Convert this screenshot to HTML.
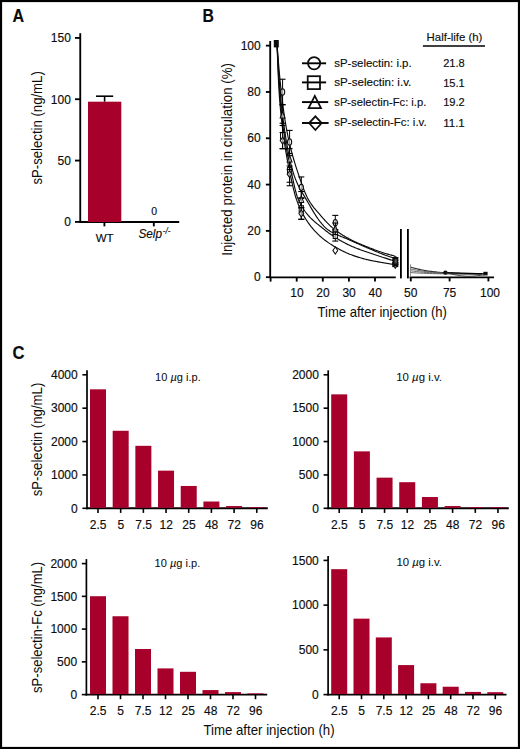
<!DOCTYPE html>
<html><head><meta charset="utf-8"><style>
html,body{margin:0;padding:0;background:#fff;overflow:hidden;}
svg{display:block;}
text{font-family:"Liberation Sans",sans-serif;fill:#0c0c0c;stroke:#0c0c0c;stroke-width:0.15px;}
</style></head><body>
<svg width="520" height="749" viewBox="0 0 520 749">
<rect x="1" y="1" width="518" height="747" fill="#fff" stroke="#000" stroke-width="2.2"/>
<text x="12.4" y="22.4" font-size="17.5" font-weight="bold" textLength="11.6" lengthAdjust="spacingAndGlyphs">A</text>
<text x="202.6" y="22.4" font-size="17.5" font-weight="bold" textLength="11.4" lengthAdjust="spacingAndGlyphs">B</text>
<text x="12.4" y="359.3" font-size="17.5" font-weight="bold" textLength="12.0" lengthAdjust="spacingAndGlyphs">C</text>
<line x1="80.25" y1="33.20" x2="80.25" y2="222.80" stroke="#000" stroke-width="1.85" />
<line x1="79.70" y1="222.00" x2="179.20" y2="222.00" stroke="#000" stroke-width="1.85" />
<line x1="75.00" y1="221.90" x2="80.25" y2="221.90" stroke="#000" stroke-width="1.85" />
<text x="70.90" y="226.20" font-size="12" text-anchor="end" >0</text>
<line x1="75.00" y1="160.57" x2="80.25" y2="160.57" stroke="#000" stroke-width="1.85" />
<text x="70.90" y="164.87" font-size="12" text-anchor="end" >50</text>
<line x1="75.00" y1="99.23" x2="80.25" y2="99.23" stroke="#000" stroke-width="1.85" />
<text x="70.90" y="103.53" font-size="12" text-anchor="end" >100</text>
<line x1="75.00" y1="37.90" x2="80.25" y2="37.90" stroke="#000" stroke-width="1.85" />
<text x="70.90" y="42.20" font-size="12" text-anchor="end" >150</text>
<rect x="88.00" y="101.69" width="33.30" height="120.31" fill="#a6002b"/>
<line x1="104.60" y1="101.69" x2="104.60" y2="96.20" stroke="#000" stroke-width="1.6" />
<line x1="96.00" y1="96.20" x2="113.20" y2="96.20" stroke="#000" stroke-width="1.6" />
<line x1="104.40" y1="222.00" x2="104.40" y2="226.40" stroke="#000" stroke-width="1.85" />
<line x1="153.80" y1="222.00" x2="153.80" y2="226.40" stroke="#000" stroke-width="1.85" />
<text x="154.20" y="215.20" font-size="10.5" text-anchor="middle" >0</text>
<text x="104.60" y="242.20" font-size="11.5" text-anchor="middle" >WT</text>
<text x="138.4" y="238.3" font-size="12" font-style="italic" textLength="23.6" lengthAdjust="spacingAndGlyphs">Selp</text>
<text x="162.8" y="234.0" font-size="8.2" font-style="italic" textLength="7.6" lengthAdjust="spacingAndGlyphs">-/-</text>
<text transform="translate(42.10,184.60) rotate(-90)" x="0" y="0" font-size="15" textLength="113.4" lengthAdjust="spacingAndGlyphs" style="stroke:none">sP-selectin (ng/mL)</text>
<line x1="270.20" y1="41.00" x2="270.20" y2="278.00" stroke="#000" stroke-width="1.85" />
<line x1="265.90" y1="277.20" x2="270.20" y2="277.20" stroke="#000" stroke-width="1.85" />
<text x="260.70" y="281.40" font-size="12" text-anchor="end" >0</text>
<line x1="265.90" y1="230.89" x2="270.20" y2="230.89" stroke="#000" stroke-width="1.85" />
<text x="260.70" y="235.09" font-size="12" text-anchor="end" >20</text>
<line x1="265.90" y1="184.58" x2="270.20" y2="184.58" stroke="#000" stroke-width="1.85" />
<text x="260.70" y="188.78" font-size="12" text-anchor="end" >40</text>
<line x1="265.90" y1="138.27" x2="270.20" y2="138.27" stroke="#000" stroke-width="1.85" />
<text x="260.70" y="142.47" font-size="12" text-anchor="end" >60</text>
<line x1="265.90" y1="91.96" x2="270.20" y2="91.96" stroke="#000" stroke-width="1.85" />
<text x="260.70" y="96.16" font-size="12" text-anchor="end" >80</text>
<line x1="265.90" y1="45.65" x2="270.20" y2="45.65" stroke="#000" stroke-width="1.85" />
<text x="260.70" y="49.85" font-size="12" text-anchor="end" >100</text>
<line x1="269.70" y1="277.30" x2="395.80" y2="277.30" stroke="#000" stroke-width="1.85" />
<line x1="270.60" y1="277.30" x2="270.60" y2="281.60" stroke="#000" stroke-width="1.85" />
<line x1="296.70" y1="277.30" x2="296.70" y2="281.60" stroke="#000" stroke-width="1.85" />
<text x="296.90" y="296.80" font-size="12" text-anchor="middle" >10</text>
<line x1="322.80" y1="277.30" x2="322.80" y2="281.60" stroke="#000" stroke-width="1.85" />
<text x="323.00" y="296.80" font-size="12" text-anchor="middle" >20</text>
<line x1="348.90" y1="277.30" x2="348.90" y2="281.60" stroke="#000" stroke-width="1.85" />
<text x="349.10" y="296.80" font-size="12" text-anchor="middle" >30</text>
<line x1="375.00" y1="277.30" x2="375.00" y2="281.60" stroke="#000" stroke-width="1.85" />
<text x="375.20" y="296.80" font-size="12" text-anchor="middle" >40</text>
<line x1="400.90" y1="229.00" x2="400.90" y2="278.40" stroke="#000" stroke-width="1.85" />
<line x1="407.90" y1="229.00" x2="407.90" y2="278.40" stroke="#000" stroke-width="1.85" />
<line x1="409.60" y1="277.30" x2="494.00" y2="277.30" stroke="#000" stroke-width="1.85" />
<line x1="410.80" y1="277.30" x2="410.80" y2="281.40" stroke="#000" stroke-width="1.85" />
<text x="410.80" y="296.80" font-size="12" text-anchor="middle" >50</text>
<line x1="449.60" y1="277.30" x2="449.60" y2="281.40" stroke="#000" stroke-width="1.85" />
<text x="449.60" y="296.80" font-size="12" text-anchor="middle" >75</text>
<line x1="488.40" y1="277.30" x2="488.40" y2="281.40" stroke="#000" stroke-width="1.85" />
<text x="490.00" y="296.80" font-size="12" text-anchor="middle" >100</text>
<text transform="translate(232.20,255.80) rotate(-90)" x="0" y="0" font-size="15" textLength="192.8" lengthAdjust="spacingAndGlyphs" style="stroke:none">Injected protein in circulation (%)</text>
<text x="317.60" y="317.20" font-size="15" text-anchor="start" textLength="129.3" lengthAdjust="spacingAndGlyphs" style="stroke:none">Time after injection (h)</text>
<line x1="302.00" y1="63.30" x2="326.10" y2="63.30" stroke="#000" stroke-width="1.9" />
<line x1="302.00" y1="82.40" x2="326.10" y2="82.40" stroke="#000" stroke-width="1.9" />
<line x1="302.00" y1="102.10" x2="328.20" y2="102.10" stroke="#000" stroke-width="1.9" />
<line x1="302.00" y1="123.00" x2="328.60" y2="123.00" stroke="#000" stroke-width="1.9" />
<circle cx="314.1" cy="63.2" r="6.1" fill="none" stroke="#0c0c0c" stroke-width="1.75"/>
<rect x="307.7" y="76.2" width="12.3" height="12.9" fill="none" stroke="#0c0c0c" stroke-width="1.75"/>
<polygon points="314.8,95.9 321.0,108.2 308.6,108.2" fill="none" stroke="#0c0c0c" stroke-width="1.75" stroke-linejoin="miter"/>
<polygon points="315.4,116.3 321.7,123.1 315.4,130.0 309.1,123.1" fill="none" stroke="#0c0c0c" stroke-width="1.75"/>
<text x="334.30" y="66.60" font-size="11.6" text-anchor="start" textLength="77.3" lengthAdjust="spacingAndGlyphs" >sP-selectin: i.p.</text>
<text x="443.20" y="66.80" font-size="11.6" text-anchor="start" textLength="21.6" lengthAdjust="spacingAndGlyphs" >21.8</text>
<text x="334.30" y="86.40" font-size="11.6" text-anchor="start" textLength="77.0" lengthAdjust="spacingAndGlyphs" >sP-selectin: i.v.</text>
<text x="443.20" y="86.60" font-size="11.6" text-anchor="start" textLength="21.6" lengthAdjust="spacingAndGlyphs" >15.1</text>
<text x="334.30" y="105.90" font-size="11.6" text-anchor="start" textLength="92.0" lengthAdjust="spacingAndGlyphs" >sP-selectin-Fc: i.p.</text>
<text x="443.20" y="106.10" font-size="11.6" text-anchor="start" textLength="21.6" lengthAdjust="spacingAndGlyphs" >19.2</text>
<text x="334.30" y="126.30" font-size="11.6" text-anchor="start" textLength="92.3" lengthAdjust="spacingAndGlyphs" >sP-selectin-Fc: i.v.</text>
<text x="443.20" y="126.50" font-size="11.6" text-anchor="start" textLength="21.6" lengthAdjust="spacingAndGlyphs" >11.1</text>
<text x="426.60" y="40.80" font-size="11.6" text-anchor="start" textLength="55.8" lengthAdjust="spacingAndGlyphs" >Half-life (h)</text>
<line x1="422.90" y1="46.00" x2="485.00" y2="46.00" stroke="#000" stroke-width="1.6" />
<polyline points="277.12,45.65 277.87,55.35 278.61,64.40 279.35,72.82 280.09,80.60 280.83,87.77 281.58,94.39 282.32,100.62 283.06,106.47 283.80,111.96 284.54,117.09 285.29,121.85 286.03,126.27 286.77,130.34 287.51,134.16 288.25,137.75 289.00,141.16 289.74,144.38 290.48,147.45 291.22,150.38 291.96,153.18 292.71,155.87 293.45,158.47 294.19,160.98 294.93,163.42 295.67,165.80 296.42,168.13 297.16,170.41 297.90,172.66 298.64,174.88 299.38,177.09 300.13,179.27 300.87,181.42 301.61,183.54 302.35,185.60 303.09,187.59 303.84,189.53 304.58,191.38 305.32,193.16 306.06,194.85 306.80,196.45 307.55,197.95 308.29,199.35 309.03,200.65 309.77,201.87 310.51,203.02 311.26,204.11 312.00,205.15 312.74,206.15 313.48,207.11 314.22,208.04 314.97,208.94 315.71,209.82 316.45,210.68 317.19,211.54 317.93,212.39 318.67,213.24 319.42,214.09 320.16,214.95 320.90,215.81 321.64,216.66 322.38,217.51 323.13,218.35 323.87,219.18 324.61,220.00 325.35,220.81 326.09,221.61 326.84,222.39 327.58,223.16 328.32,223.91 329.06,224.64 329.80,225.36 330.55,226.06 331.29,226.74 332.03,227.41 332.77,228.05 333.51,228.67 334.26,229.27 335.00,229.85 335.74,230.42 336.48,230.97 337.22,231.51 337.97,232.04 338.71,232.55 339.45,233.05 340.19,233.54 340.93,234.02 341.68,234.49 342.42,234.95 343.16,235.41 343.90,235.85 344.64,236.29 345.39,236.72 346.13,237.14 346.87,237.56 347.61,237.97 348.35,238.37 349.10,238.77 349.84,239.17 350.58,239.56 351.32,239.94 352.06,240.32 352.81,240.68 353.55,241.05 354.29,241.40 355.03,241.75 355.77,242.09 356.51,242.43 357.26,242.77 358.00,243.09 358.74,243.42 359.48,243.74 360.22,244.06 360.97,244.37 361.71,244.68 362.45,244.99 363.19,245.29 363.93,245.60 364.68,245.90 365.42,246.20 366.16,246.49 366.90,246.79 367.64,247.08 368.39,247.37 369.13,247.67 369.87,247.96 370.61,248.25 371.35,248.54 372.10,248.83 372.84,249.12 373.58,249.41 374.32,249.69 375.06,249.97 375.81,250.25 376.55,250.53 377.29,250.80 378.03,251.06 378.77,251.33 379.52,251.58 380.26,251.83 381.00,252.07 381.74,252.32 382.48,252.55 383.23,252.79 383.97,253.02 384.71,253.25 385.45,253.48 386.19,253.70 386.94,253.92 387.68,254.13 388.42,254.35 389.16,254.56 389.90,254.76 390.65,254.97 391.39,255.17 392.13,255.37 392.87,255.56 393.61,255.75 394.36,255.94 395.10,256.13" fill="none" stroke="#0c0c0c" stroke-width="1.15"/>
<polyline points="277.12,45.65 277.87,58.98 278.61,70.96 279.35,81.57 280.09,90.77 280.83,98.89 281.58,106.24 282.32,112.91 283.06,119.01 283.80,124.60 284.54,129.76 285.29,134.64 286.03,139.28 286.77,143.69 287.51,147.87 288.25,151.83 289.00,155.56 289.74,159.06 290.48,162.35 291.22,165.42 291.96,168.28 292.71,170.93 293.45,173.37 294.19,175.61 294.93,177.67 295.67,179.60 296.42,181.39 297.16,183.08 297.90,184.68 298.64,186.19 299.38,187.63 300.13,189.01 300.87,190.34 301.61,191.64 302.35,192.91 303.09,194.16 303.84,195.40 304.58,196.64 305.32,197.88 306.06,199.14 306.80,200.41 307.55,201.70 308.29,203.00 309.03,204.29 309.77,205.58 310.51,206.87 311.26,208.14 312.00,209.41 312.74,210.65 313.48,211.88 314.22,213.09 314.97,214.27 315.71,215.43 316.45,216.57 317.19,217.67 317.93,218.75 318.67,219.79 319.42,220.80 320.16,221.77 320.90,222.71 321.64,223.62 322.38,224.48 323.13,225.31 323.87,226.10 324.61,226.85 325.35,227.56 326.09,228.23 326.84,228.86 327.58,229.45 328.32,229.99 329.06,230.50 329.80,230.99 330.55,231.45 331.29,231.90 332.03,232.32 332.77,232.73 333.51,233.12 334.26,233.49 335.00,233.85 335.74,234.20 336.48,234.54 337.22,234.87 337.97,235.19 338.71,235.51 339.45,235.81 340.19,236.12 340.93,236.42 341.68,236.72 342.42,237.01 343.16,237.31 343.90,237.61 344.64,237.90 345.39,238.20 346.13,238.51 346.87,238.82 347.61,239.13 348.35,239.45 349.10,239.77 349.84,240.10 350.58,240.44 351.32,240.78 352.06,241.11 352.81,241.45 353.55,241.78 354.29,242.11 355.03,242.44 355.77,242.78 356.51,243.11 357.26,243.43 358.00,243.76 358.74,244.09 359.48,244.42 360.22,244.74 360.97,245.07 361.71,245.39 362.45,245.71 363.19,246.03 363.93,246.35 364.68,246.67 365.42,246.99 366.16,247.31 366.90,247.63 367.64,247.94 368.39,248.25 369.13,248.57 369.87,248.88 370.61,249.19 371.35,249.51 372.10,249.82 372.84,250.14 373.58,250.46 374.32,250.78 375.06,251.10 375.81,251.41 376.55,251.73 377.29,252.04 378.03,252.34 378.77,252.65 379.52,252.94 380.26,253.24 381.00,253.52 381.74,253.81 382.48,254.09 383.23,254.37 383.97,254.65 384.71,254.92 385.45,255.19 386.19,255.46 386.94,255.72 387.68,255.98 388.42,256.24 389.16,256.50 389.90,256.75 390.65,257.00 391.39,257.25 392.13,257.49 392.87,257.73 393.61,257.97 394.36,258.21 395.10,258.44" fill="none" stroke="#0c0c0c" stroke-width="1.15"/>
<polyline points="277.12,45.65 277.87,61.96 278.61,76.11 279.35,87.92 280.09,97.66 280.83,106.15 281.58,113.64 282.32,120.36 283.06,126.46 283.80,132.09 284.54,137.26 285.29,142.03 286.03,146.46 286.77,150.60 287.51,154.51 288.25,158.22 289.00,161.78 289.74,165.23 290.48,168.59 291.22,171.89 291.96,175.15 292.71,178.45 293.45,181.80 294.19,185.10 294.93,188.28 295.67,191.27 296.42,194.01 297.16,196.47 297.90,198.59 298.64,200.34 299.38,201.89 300.13,203.36 300.87,204.75 301.61,206.07 302.35,207.32 303.09,208.51 303.84,209.64 304.58,210.72 305.32,211.75 306.06,212.73 306.80,213.67 307.55,214.56 308.29,215.43 309.03,216.25 309.77,217.05 310.51,217.82 311.26,218.56 312.00,219.28 312.74,219.97 313.48,220.65 314.22,221.31 314.97,221.96 315.71,222.59 316.45,223.21 317.19,223.82 317.93,224.43 318.67,225.02 319.42,225.61 320.16,226.20 320.90,226.79 321.64,227.38 322.38,227.96 323.13,228.55 323.87,229.14 324.61,229.74 325.35,230.34 326.09,230.93 326.84,231.51 327.58,232.07 328.32,232.63 329.06,233.18 329.80,233.72 330.55,234.26 331.29,234.78 332.03,235.29 332.77,235.80 333.51,236.30 334.26,236.79 335.00,237.27 335.74,237.74 336.48,238.21 337.22,238.67 337.97,239.12 338.71,239.56 339.45,240.00 340.19,240.43 340.93,240.85 341.68,241.27 342.42,241.68 343.16,242.08 343.90,242.47 344.64,242.86 345.39,243.25 346.13,243.63 346.87,244.00 347.61,244.36 348.35,244.72 349.10,245.08 349.84,245.43 350.58,245.77 351.32,246.11 352.06,246.43 352.81,246.76 353.55,247.07 354.29,247.38 355.03,247.68 355.77,247.98 356.51,248.27 357.26,248.56 358.00,248.85 358.74,249.13 359.48,249.41 360.22,249.68 360.97,249.95 361.71,250.22 362.45,250.49 363.19,250.75 363.93,251.01 364.68,251.27 365.42,251.53 366.16,251.79 366.90,252.04 367.64,252.30 368.39,252.55 369.13,252.81 369.87,253.06 370.61,253.31 371.35,253.56 372.10,253.81 372.84,254.05 373.58,254.29 374.32,254.53 375.06,254.77 375.81,255.01 376.55,255.25 377.29,255.49 378.03,255.73 378.77,255.97 379.52,256.21 380.26,256.46 381.00,256.70 381.74,256.95 382.48,257.19 383.23,257.43 383.97,257.68 384.71,257.92 385.45,258.16 386.19,258.40 386.94,258.64 387.68,258.88 388.42,259.12 389.16,259.36 389.90,259.59 390.65,259.83 391.39,260.06 392.13,260.30 392.87,260.53 393.61,260.76 394.36,260.99 395.10,261.22" fill="none" stroke="#0c0c0c" stroke-width="1.15"/>
<polyline points="277.12,45.65 277.87,66.71 278.61,83.56 279.35,95.67 280.09,105.26 280.83,113.27 281.58,120.24 282.32,126.62 283.06,132.68 283.80,138.26 284.54,143.42 285.29,148.21 286.03,152.68 286.77,156.90 287.51,160.91 288.25,164.74 289.00,168.43 289.74,172.02 290.48,175.53 291.22,178.98 291.96,182.37 292.71,185.65 293.45,188.78 294.19,191.73 294.93,194.48 295.67,197.00 296.42,199.29 297.16,201.34 297.90,203.28 298.64,205.13 299.38,206.88 300.13,208.55 300.87,210.15 301.61,211.67 302.35,213.13 303.09,214.52 303.84,215.86 304.58,217.14 305.32,218.37 306.06,219.55 306.80,220.69 307.55,221.79 308.29,222.85 309.03,223.88 309.77,224.87 310.51,225.84 311.26,226.78 312.00,227.69 312.74,228.58 313.48,229.45 314.22,230.30 314.97,231.13 315.71,231.92 316.45,232.70 317.19,233.45 317.93,234.18 318.67,234.89 319.42,235.58 320.16,236.26 320.90,236.91 321.64,237.54 322.38,238.17 323.13,238.77 323.87,239.36 324.61,239.93 325.35,240.50 326.09,241.05 326.84,241.58 327.58,242.11 328.32,242.62 329.06,243.13 329.80,243.62 330.55,244.11 331.29,244.58 332.03,245.05 332.77,245.51 333.51,245.96 334.26,246.40 335.00,246.84 335.74,247.27 336.48,247.70 337.22,248.11 337.97,248.53 338.71,248.93 339.45,249.34 340.19,249.73 340.93,250.13 341.68,250.51 342.42,250.89 343.16,251.26 343.90,251.63 344.64,251.98 345.39,252.33 346.13,252.67 346.87,253.00 347.61,253.33 348.35,253.64 349.10,253.94 349.84,254.24 350.58,254.52 351.32,254.80 352.06,255.08 352.81,255.35 353.55,255.61 354.29,255.87 355.03,256.12 355.77,256.37 356.51,256.62 357.26,256.86 358.00,257.10 358.74,257.33 359.48,257.55 360.22,257.77 360.97,257.99 361.71,258.20 362.45,258.41 363.19,258.62 363.93,258.82 364.68,259.01 365.42,259.20 366.16,259.39 366.90,259.57 367.64,259.75 368.39,259.92 369.13,260.09 369.87,260.26 370.61,260.42 371.35,260.58 372.10,260.73 372.84,260.87 373.58,261.01 374.32,261.15 375.06,261.28 375.81,261.42 376.55,261.55 377.29,261.68 378.03,261.81 378.77,261.94 379.52,262.07 380.26,262.20 381.00,262.34 381.74,262.47 382.48,262.60 383.23,262.73 383.97,262.86 384.71,262.99 385.45,263.11 386.19,263.24 386.94,263.37 387.68,263.49 388.42,263.61 389.16,263.74 389.90,263.86 390.65,263.98 391.39,264.10 392.13,264.22 392.87,264.34 393.61,264.46 394.36,264.58 395.10,264.70" fill="none" stroke="#0c0c0c" stroke-width="1.15"/>
<polyline points="410.60,267.01 412.06,267.48 413.51,267.91 414.97,268.32 416.43,268.70 417.88,269.06 419.34,269.39 420.80,269.70 422.26,269.99 423.71,270.26 425.17,270.52 426.63,270.76 428.08,270.98 429.54,271.19 431.00,271.38 432.45,271.56 433.91,271.73 435.37,271.89 436.83,272.04 438.28,272.18 439.74,272.31 441.20,272.43 442.65,272.55 444.11,272.65 445.57,272.75 447.02,272.85 448.48,272.93 449.94,273.02 451.40,273.09 452.85,273.16 454.31,273.23 455.77,273.29 457.22,273.35 458.68,273.40 460.14,273.46 461.59,273.50 463.05,273.55 464.51,273.59 465.97,273.63 467.42,273.66 468.88,273.70 470.34,273.73 471.79,273.76 473.25,273.79 474.71,273.81 476.16,273.84 477.62,273.86 479.08,273.88 480.54,273.90 481.99,273.92" fill="none" stroke="#222" stroke-width="1.1"/>
<polyline points="410.60,268.86 412.06,269.21 413.51,269.53 414.97,269.83 416.43,270.12 417.88,270.38 419.34,270.63 420.80,270.86 422.26,271.08 423.71,271.28 425.17,271.47 426.63,271.64 428.08,271.81 429.54,271.96 431.00,272.11 432.45,272.24 433.91,272.37 435.37,272.49 436.83,272.60 438.28,272.70 439.74,272.80 441.20,272.89 442.65,272.97 444.11,273.05 445.57,273.12 447.02,273.19 448.48,273.26 449.94,273.32 451.40,273.38 452.85,273.43 454.31,273.48 455.77,273.52 457.22,273.57 458.68,273.61 460.14,273.65 461.59,273.68 463.05,273.71 464.51,273.74 465.97,273.77 467.42,273.80 468.88,273.83 470.34,273.85 471.79,273.87 473.25,273.89 474.71,273.91 476.16,273.93 477.62,273.95 479.08,273.96 480.54,273.98 481.99,273.99" fill="none" stroke="#555" stroke-width="0.9"/>
<polyline points="410.60,270.72 412.06,270.94 413.51,271.15 414.97,271.35 416.43,271.53 417.88,271.71 419.34,271.87 420.80,272.02 422.26,272.16 423.71,272.29 425.17,272.41 426.63,272.53 428.08,272.64 429.54,272.74 431.00,272.83 432.45,272.92 433.91,273.00 435.37,273.08 436.83,273.15 438.28,273.22 439.74,273.28 441.20,273.34 442.65,273.40 444.11,273.45 445.57,273.50 447.02,273.54 448.48,273.58 449.94,273.62 451.40,273.66 452.85,273.69 454.31,273.73 455.77,273.76 457.22,273.78 458.68,273.81 460.14,273.83 461.59,273.86 463.05,273.88 464.51,273.90 465.97,273.92 467.42,273.94 468.88,273.95 470.34,273.97 471.79,273.98 473.25,274.00 474.71,274.01 476.16,274.02 477.62,274.03 479.08,274.04 480.54,274.05 481.99,274.06" fill="none" stroke="#555" stroke-width="0.9"/>
<polyline points="410.60,272.57 412.06,272.67 413.51,272.77 414.97,272.86 416.43,272.95 417.88,273.03 419.34,273.11 420.80,273.18 422.26,273.24 423.71,273.30 425.17,273.36 426.63,273.41 428.08,273.46 429.54,273.51 431.00,273.56 432.45,273.60 433.91,273.64 435.37,273.67 436.83,273.71 438.28,273.74 439.74,273.77 441.20,273.79 442.65,273.82 444.11,273.84 445.57,273.87 447.02,273.89 448.48,273.91 449.94,273.92 451.40,273.94 452.85,273.96 454.31,273.97 455.77,273.99 457.22,274.00 458.68,274.01 460.14,274.02 461.59,274.03 463.05,274.04 464.51,274.05 465.97,274.06 467.42,274.07 468.88,274.08 470.34,274.09 471.79,274.09 473.25,274.10 474.71,274.11 476.16,274.11 477.62,274.12 479.08,274.12 480.54,274.13 481.99,274.13" fill="none" stroke="#555" stroke-width="0.9"/>
<line x1="410.50" y1="264.30" x2="410.50" y2="277.00" stroke="#777" stroke-width="0.8" />
<line x1="282.60" y1="79.22" x2="282.60" y2="104.70" stroke="#000" stroke-width="1.0" />
<line x1="279.60" y1="79.22" x2="285.60" y2="79.22" stroke="#000" stroke-width="1.1" />
<line x1="279.60" y1="104.70" x2="285.60" y2="104.70" stroke="#000" stroke-width="1.1" />
<ellipse cx="282.60" cy="91.96" rx="2.10" ry="3.20" fill="#fff" fill-opacity="0.6" stroke="#0c0c0c" stroke-width="1.05"/>
<line x1="289.60" y1="130.40" x2="289.60" y2="153.55" stroke="#000" stroke-width="1.0" />
<line x1="286.60" y1="130.40" x2="292.60" y2="130.40" stroke="#000" stroke-width="1.1" />
<line x1="286.60" y1="153.55" x2="292.60" y2="153.55" stroke="#000" stroke-width="1.1" />
<ellipse cx="289.60" cy="141.97" rx="2.10" ry="3.20" fill="#fff" fill-opacity="0.6" stroke="#0c0c0c" stroke-width="1.05"/>
<line x1="301.30" y1="176.94" x2="301.30" y2="197.78" stroke="#000" stroke-width="1.0" />
<line x1="298.30" y1="176.94" x2="304.30" y2="176.94" stroke="#000" stroke-width="1.1" />
<line x1="298.30" y1="197.78" x2="304.30" y2="197.78" stroke="#000" stroke-width="1.1" />
<ellipse cx="301.30" cy="187.36" rx="2.10" ry="3.20" fill="#fff" fill-opacity="0.6" stroke="#0c0c0c" stroke-width="1.05"/>
<line x1="335.30" y1="215.38" x2="335.30" y2="230.20" stroke="#000" stroke-width="1.0" />
<line x1="332.30" y1="215.38" x2="338.30" y2="215.38" stroke="#000" stroke-width="1.1" />
<line x1="332.30" y1="230.20" x2="338.30" y2="230.20" stroke="#000" stroke-width="1.1" />
<ellipse cx="335.30" cy="222.79" rx="2.10" ry="3.20" fill="#fff" fill-opacity="0.6" stroke="#0c0c0c" stroke-width="1.05"/>
<line x1="395.30" y1="257.75" x2="395.30" y2="262.38" stroke="#000" stroke-width="1.0" />
<line x1="392.30" y1="257.75" x2="398.30" y2="257.75" stroke="#000" stroke-width="1.1" />
<line x1="392.30" y1="262.38" x2="398.30" y2="262.38" stroke="#000" stroke-width="1.1" />
<ellipse cx="395.30" cy="260.07" rx="2.10" ry="3.20" fill="#fff" fill-opacity="0.6" stroke="#0c0c0c" stroke-width="1.05"/>
<line x1="282.60" y1="123.22" x2="282.60" y2="148.69" stroke="#000" stroke-width="1.0" />
<line x1="279.60" y1="123.22" x2="285.60" y2="123.22" stroke="#000" stroke-width="1.1" />
<line x1="279.60" y1="148.69" x2="285.60" y2="148.69" stroke="#000" stroke-width="1.1" />
<rect x="280.50" y="132.75" width="4.20" height="6.40" fill="#fff" fill-opacity="0.6" stroke="#0c0c0c" stroke-width="1.05"/>
<line x1="289.60" y1="155.64" x2="289.60" y2="185.74" stroke="#000" stroke-width="1.0" />
<line x1="286.60" y1="155.64" x2="292.60" y2="155.64" stroke="#000" stroke-width="1.1" />
<line x1="286.60" y1="185.74" x2="292.60" y2="185.74" stroke="#000" stroke-width="1.1" />
<rect x="287.50" y="167.49" width="4.20" height="6.40" fill="#fff" fill-opacity="0.6" stroke="#0c0c0c" stroke-width="1.05"/>
<line x1="301.30" y1="198.47" x2="301.30" y2="219.31" stroke="#000" stroke-width="1.0" />
<line x1="298.30" y1="198.47" x2="304.30" y2="198.47" stroke="#000" stroke-width="1.1" />
<line x1="298.30" y1="219.31" x2="304.30" y2="219.31" stroke="#000" stroke-width="1.1" />
<rect x="299.20" y="205.69" width="4.20" height="6.40" fill="#fff" fill-opacity="0.6" stroke="#0c0c0c" stroke-width="1.05"/>
<line x1="335.30" y1="229.50" x2="335.30" y2="241.08" stroke="#000" stroke-width="1.0" />
<line x1="332.30" y1="229.50" x2="338.30" y2="229.50" stroke="#000" stroke-width="1.1" />
<line x1="332.30" y1="241.08" x2="338.30" y2="241.08" stroke="#000" stroke-width="1.1" />
<rect x="333.20" y="232.09" width="4.20" height="6.40" fill="#fff" fill-opacity="0.6" stroke="#0c0c0c" stroke-width="1.05"/>
<line x1="395.30" y1="260.53" x2="395.30" y2="265.16" stroke="#000" stroke-width="1.0" />
<line x1="392.30" y1="260.53" x2="398.30" y2="260.53" stroke="#000" stroke-width="1.1" />
<line x1="392.30" y1="265.16" x2="398.30" y2="265.16" stroke="#000" stroke-width="1.1" />
<rect x="393.20" y="259.64" width="4.20" height="6.40" fill="#fff" fill-opacity="0.6" stroke="#0c0c0c" stroke-width="1.05"/>
<line x1="282.60" y1="104.70" x2="282.60" y2="125.53" stroke="#000" stroke-width="1.0" />
<line x1="279.60" y1="104.70" x2="285.60" y2="104.70" stroke="#000" stroke-width="1.1" />
<line x1="279.60" y1="125.53" x2="285.60" y2="125.53" stroke="#000" stroke-width="1.1" />
<polygon points="282.60,111.41 285.00,118.01 280.20,118.01" fill="#fff" fill-opacity="0.6" stroke="#0c0c0c" stroke-width="1.05"/>
<line x1="289.60" y1="148.69" x2="289.60" y2="169.53" stroke="#000" stroke-width="1.0" />
<line x1="286.60" y1="148.69" x2="292.60" y2="148.69" stroke="#000" stroke-width="1.1" />
<line x1="286.60" y1="169.53" x2="292.60" y2="169.53" stroke="#000" stroke-width="1.1" />
<polygon points="289.60,155.41 292.00,162.01 287.20,162.01" fill="#fff" fill-opacity="0.6" stroke="#0c0c0c" stroke-width="1.05"/>
<line x1="301.30" y1="191.53" x2="301.30" y2="207.73" stroke="#000" stroke-width="1.0" />
<line x1="298.30" y1="191.53" x2="304.30" y2="191.53" stroke="#000" stroke-width="1.1" />
<line x1="298.30" y1="207.73" x2="304.30" y2="207.73" stroke="#000" stroke-width="1.1" />
<polygon points="301.30,195.93 303.70,202.53 298.90,202.53" fill="#fff" fill-opacity="0.6" stroke="#0c0c0c" stroke-width="1.05"/>
<line x1="335.30" y1="223.02" x2="335.30" y2="234.59" stroke="#000" stroke-width="1.0" />
<line x1="332.30" y1="223.02" x2="338.30" y2="223.02" stroke="#000" stroke-width="1.1" />
<line x1="332.30" y1="234.59" x2="338.30" y2="234.59" stroke="#000" stroke-width="1.1" />
<polygon points="335.30,225.11 337.70,231.71 332.90,231.71" fill="#fff" fill-opacity="0.6" stroke="#0c0c0c" stroke-width="1.05"/>
<line x1="395.30" y1="259.14" x2="395.30" y2="263.77" stroke="#000" stroke-width="1.0" />
<line x1="392.30" y1="259.14" x2="398.30" y2="259.14" stroke="#000" stroke-width="1.1" />
<line x1="392.30" y1="263.77" x2="398.30" y2="263.77" stroke="#000" stroke-width="1.1" />
<polygon points="395.30,257.75 397.70,264.35 392.90,264.35" fill="#fff" fill-opacity="0.6" stroke="#0c0c0c" stroke-width="1.05"/>
<line x1="282.60" y1="132.48" x2="282.60" y2="148.69" stroke="#000" stroke-width="1.0" />
<line x1="279.60" y1="132.48" x2="285.60" y2="132.48" stroke="#000" stroke-width="1.1" />
<line x1="279.60" y1="148.69" x2="285.60" y2="148.69" stroke="#000" stroke-width="1.1" />
<polygon points="282.60,137.09 285.00,140.59 282.60,144.09 280.20,140.59" fill="#fff" fill-opacity="0.6" stroke="#0c0c0c" stroke-width="1.05"/>
<line x1="289.60" y1="166.06" x2="289.60" y2="182.26" stroke="#000" stroke-width="1.0" />
<line x1="286.60" y1="166.06" x2="292.60" y2="166.06" stroke="#000" stroke-width="1.1" />
<line x1="286.60" y1="182.26" x2="292.60" y2="182.26" stroke="#000" stroke-width="1.1" />
<polygon points="289.60,170.66 292.00,174.16 289.60,177.66 287.20,174.16" fill="#fff" fill-opacity="0.6" stroke="#0c0c0c" stroke-width="1.05"/>
<line x1="301.30" y1="207.73" x2="301.30" y2="219.31" stroke="#000" stroke-width="1.0" />
<line x1="298.30" y1="207.73" x2="304.30" y2="207.73" stroke="#000" stroke-width="1.1" />
<line x1="298.30" y1="219.31" x2="304.30" y2="219.31" stroke="#000" stroke-width="1.1" />
<polygon points="301.30,210.02 303.70,213.52 301.30,217.02 298.90,213.52" fill="#fff" fill-opacity="0.6" stroke="#0c0c0c" stroke-width="1.05"/>
<polygon points="335.30,247.07 337.70,250.57 335.30,254.07 332.90,250.57" fill="#fff" fill-opacity="0.6" stroke="#0c0c0c" stroke-width="1.05"/>
<line x1="395.30" y1="262.84" x2="395.30" y2="266.55" stroke="#000" stroke-width="1.0" />
<line x1="392.30" y1="262.84" x2="398.30" y2="262.84" stroke="#000" stroke-width="1.1" />
<line x1="392.30" y1="266.55" x2="398.30" y2="266.55" stroke="#000" stroke-width="1.1" />
<polygon points="395.30,261.20 397.70,264.70 395.30,268.20 392.90,264.70" fill="#fff" fill-opacity="0.6" stroke="#0c0c0c" stroke-width="1.05"/>
<rect x="393.4" y="257.0" width="4.8" height="9.2" fill="#0c0c0c"/>
<rect x="394.6" y="259.2" width="2.2" height="4.2" fill="#555"/>
<rect x="273.8" y="40.0" width="5.0" height="7.4" fill="#0c0c0c"/>
<circle cx="445.4" cy="272.6" r="2.2" fill="#0c0c0c"/>
<rect x="483.4" y="271.8" width="4.2" height="3.6" fill="#0c0c0c"/>
<line x1="445.40" y1="272.60" x2="485.60" y2="273.80" stroke="#000" stroke-width="1.3" />
<path d="M445.4,272.6 Q462,277 472,276.2 T485.6,274.6" fill="none" stroke="#333" stroke-width="0.9"/>
<line x1="87.00" y1="370.30" x2="87.00" y2="509.20" stroke="#000" stroke-width="1.7" />
<line x1="86.20" y1="508.30" x2="267.80" y2="508.30" stroke="#000" stroke-width="1.9" />
<line x1="82.40" y1="508.30" x2="87.00" y2="508.30" stroke="#000" stroke-width="1.6" />
<text x="77.70" y="512.50" font-size="12" text-anchor="end" >0</text>
<line x1="82.40" y1="474.93" x2="87.00" y2="474.93" stroke="#000" stroke-width="1.6" />
<text x="77.70" y="479.12" font-size="12" text-anchor="end" >1000</text>
<line x1="82.40" y1="441.55" x2="87.00" y2="441.55" stroke="#000" stroke-width="1.6" />
<text x="77.70" y="445.75" font-size="12" text-anchor="end" >2000</text>
<line x1="82.40" y1="408.18" x2="87.00" y2="408.18" stroke="#000" stroke-width="1.6" />
<text x="77.70" y="412.38" font-size="12" text-anchor="end" >3000</text>
<line x1="82.40" y1="374.80" x2="87.00" y2="374.80" stroke="#000" stroke-width="1.6" />
<text x="77.70" y="379.00" font-size="12" text-anchor="end" >4000</text>
<rect x="90.00" y="389.32" width="16.00" height="118.48" fill="#a6002b"/>
<line x1="98.00" y1="508.30" x2="98.00" y2="512.90" stroke="#000" stroke-width="1.6" />
<text x="98.20" y="528.60" font-size="12" text-anchor="middle" >2.5</text>
<rect x="112.68" y="430.77" width="16.00" height="77.03" fill="#a6002b"/>
<line x1="120.68" y1="508.30" x2="120.68" y2="512.90" stroke="#000" stroke-width="1.6" />
<text x="120.88" y="528.60" font-size="12" text-anchor="middle" >5</text>
<rect x="135.36" y="445.82" width="16.00" height="61.98" fill="#a6002b"/>
<line x1="143.36" y1="508.30" x2="143.36" y2="512.90" stroke="#000" stroke-width="1.6" />
<text x="143.56" y="528.60" font-size="12" text-anchor="middle" >7.5</text>
<rect x="158.04" y="470.65" width="16.00" height="37.15" fill="#a6002b"/>
<line x1="166.04" y1="508.30" x2="166.04" y2="512.90" stroke="#000" stroke-width="1.6" />
<text x="166.24" y="528.60" font-size="12" text-anchor="middle" >12</text>
<rect x="180.72" y="485.97" width="16.00" height="21.83" fill="#a6002b"/>
<line x1="188.72" y1="508.30" x2="188.72" y2="512.90" stroke="#000" stroke-width="1.6" />
<text x="188.92" y="528.60" font-size="12" text-anchor="middle" >25</text>
<rect x="203.40" y="501.52" width="16.00" height="6.28" fill="#a6002b"/>
<line x1="211.40" y1="508.30" x2="211.40" y2="512.90" stroke="#000" stroke-width="1.6" />
<text x="211.60" y="528.60" font-size="12" text-anchor="middle" >48</text>
<rect x="226.08" y="506.03" width="16.00" height="1.77" fill="#a6002b"/>
<line x1="234.08" y1="508.30" x2="234.08" y2="512.90" stroke="#000" stroke-width="1.6" />
<text x="234.28" y="528.60" font-size="12" text-anchor="middle" >72</text>
<rect x="248.76" y="507.10" width="16.00" height="0.70" fill="#a6002b"/>
<line x1="256.76" y1="508.30" x2="256.76" y2="512.90" stroke="#000" stroke-width="1.6" />
<text x="256.96" y="528.60" font-size="12" text-anchor="middle" >96</text>
<text x="155.10" y="380.60" font-size="10.1" text-anchor="start" textLength="45.6" lengthAdjust="spacingAndGlyphs" style="stroke-width:0.05px">10 <tspan font-style="italic">µ</tspan>g i.p.</text>
<line x1="328.20" y1="370.30" x2="328.20" y2="509.20" stroke="#000" stroke-width="1.7" />
<line x1="327.40" y1="508.30" x2="508.80" y2="508.30" stroke="#000" stroke-width="1.9" />
<line x1="323.60" y1="508.30" x2="328.20" y2="508.30" stroke="#000" stroke-width="1.6" />
<text x="318.90" y="512.50" font-size="12" text-anchor="end" >0</text>
<line x1="323.60" y1="474.93" x2="328.20" y2="474.93" stroke="#000" stroke-width="1.6" />
<text x="318.90" y="479.12" font-size="12" text-anchor="end" >500</text>
<line x1="323.60" y1="441.55" x2="328.20" y2="441.55" stroke="#000" stroke-width="1.6" />
<text x="318.90" y="445.75" font-size="12" text-anchor="end" >1000</text>
<line x1="323.60" y1="408.18" x2="328.20" y2="408.18" stroke="#000" stroke-width="1.6" />
<text x="318.90" y="412.38" font-size="12" text-anchor="end" >1500</text>
<line x1="323.60" y1="374.80" x2="328.20" y2="374.80" stroke="#000" stroke-width="1.6" />
<text x="318.90" y="379.00" font-size="12" text-anchor="end" >2000</text>
<rect x="331.20" y="394.36" width="16.00" height="113.44" fill="#a6002b"/>
<line x1="339.20" y1="508.30" x2="339.20" y2="512.90" stroke="#000" stroke-width="1.6" />
<text x="339.40" y="528.60" font-size="12" text-anchor="middle" >2.5</text>
<rect x="353.88" y="451.36" width="16.00" height="56.44" fill="#a6002b"/>
<line x1="361.88" y1="508.30" x2="361.88" y2="512.90" stroke="#000" stroke-width="1.6" />
<text x="362.08" y="528.60" font-size="12" text-anchor="middle" >5</text>
<rect x="376.56" y="477.66" width="16.00" height="30.14" fill="#a6002b"/>
<line x1="384.56" y1="508.30" x2="384.56" y2="512.90" stroke="#000" stroke-width="1.6" />
<text x="384.76" y="528.60" font-size="12" text-anchor="middle" >7.5</text>
<rect x="399.24" y="482.20" width="16.00" height="25.60" fill="#a6002b"/>
<line x1="407.24" y1="508.30" x2="407.24" y2="512.90" stroke="#000" stroke-width="1.6" />
<text x="407.44" y="528.60" font-size="12" text-anchor="middle" >12</text>
<rect x="421.92" y="497.02" width="16.00" height="10.78" fill="#a6002b"/>
<line x1="429.92" y1="508.30" x2="429.92" y2="512.90" stroke="#000" stroke-width="1.6" />
<text x="430.12" y="528.60" font-size="12" text-anchor="middle" >25</text>
<rect x="444.60" y="506.03" width="16.00" height="1.77" fill="#a6002b"/>
<line x1="452.60" y1="508.30" x2="452.60" y2="512.90" stroke="#000" stroke-width="1.6" />
<text x="452.80" y="528.60" font-size="12" text-anchor="middle" >48</text>
<rect x="467.28" y="507.03" width="16.00" height="0.77" fill="#a6002b"/>
<line x1="475.28" y1="508.30" x2="475.28" y2="512.90" stroke="#000" stroke-width="1.6" />
<text x="475.48" y="528.60" font-size="12" text-anchor="middle" >72</text>
<rect x="489.96" y="507.10" width="16.00" height="0.70" fill="#a6002b"/>
<line x1="497.96" y1="508.30" x2="497.96" y2="512.90" stroke="#000" stroke-width="1.6" />
<text x="498.16" y="528.60" font-size="12" text-anchor="middle" >96</text>
<text x="396.30" y="380.60" font-size="10.1" text-anchor="start" textLength="45.6" lengthAdjust="spacingAndGlyphs" style="stroke-width:0.05px">10 <tspan font-style="italic">µ</tspan>g i.v.</text>
<line x1="86.40" y1="559.10" x2="86.40" y2="695.50" stroke="#000" stroke-width="1.7" />
<line x1="85.60" y1="694.60" x2="267.20" y2="694.60" stroke="#000" stroke-width="1.9" />
<line x1="81.80" y1="694.60" x2="86.40" y2="694.60" stroke="#000" stroke-width="1.6" />
<text x="77.10" y="698.80" font-size="12" text-anchor="end" >0</text>
<line x1="81.80" y1="661.85" x2="86.40" y2="661.85" stroke="#000" stroke-width="1.6" />
<text x="77.10" y="666.05" font-size="12" text-anchor="end" >500</text>
<line x1="81.80" y1="629.10" x2="86.40" y2="629.10" stroke="#000" stroke-width="1.6" />
<text x="77.10" y="633.30" font-size="12" text-anchor="end" >1000</text>
<line x1="81.80" y1="596.35" x2="86.40" y2="596.35" stroke="#000" stroke-width="1.6" />
<text x="77.10" y="600.55" font-size="12" text-anchor="end" >1500</text>
<line x1="81.80" y1="563.60" x2="86.40" y2="563.60" stroke="#000" stroke-width="1.6" />
<text x="77.10" y="567.80" font-size="12" text-anchor="end" >2000</text>
<rect x="90.00" y="596.22" width="16.00" height="97.88" fill="#a6002b"/>
<line x1="98.00" y1="694.60" x2="98.00" y2="699.20" stroke="#000" stroke-width="1.6" />
<text x="98.20" y="714.90" font-size="12" text-anchor="middle" >2.5</text>
<rect x="112.50" y="616.26" width="16.00" height="77.84" fill="#a6002b"/>
<line x1="120.50" y1="694.60" x2="120.50" y2="699.20" stroke="#000" stroke-width="1.6" />
<text x="120.70" y="714.90" font-size="12" text-anchor="middle" >5</text>
<rect x="135.00" y="649.01" width="16.00" height="45.09" fill="#a6002b"/>
<line x1="143.00" y1="694.60" x2="143.00" y2="699.20" stroke="#000" stroke-width="1.6" />
<text x="143.20" y="714.90" font-size="12" text-anchor="middle" >7.5</text>
<rect x="157.50" y="668.40" width="16.00" height="25.70" fill="#a6002b"/>
<line x1="165.50" y1="694.60" x2="165.50" y2="699.20" stroke="#000" stroke-width="1.6" />
<text x="165.70" y="714.90" font-size="12" text-anchor="middle" >12</text>
<rect x="180.00" y="671.81" width="16.00" height="22.29" fill="#a6002b"/>
<line x1="188.00" y1="694.60" x2="188.00" y2="699.20" stroke="#000" stroke-width="1.6" />
<text x="188.20" y="714.90" font-size="12" text-anchor="middle" >25</text>
<rect x="202.50" y="690.08" width="16.00" height="4.02" fill="#a6002b"/>
<line x1="210.50" y1="694.60" x2="210.50" y2="699.20" stroke="#000" stroke-width="1.6" />
<text x="210.70" y="714.90" font-size="12" text-anchor="middle" >48</text>
<rect x="225.00" y="692.11" width="16.00" height="1.99" fill="#a6002b"/>
<line x1="233.00" y1="694.60" x2="233.00" y2="699.20" stroke="#000" stroke-width="1.6" />
<text x="233.20" y="714.90" font-size="12" text-anchor="middle" >72</text>
<rect x="247.50" y="693.40" width="16.00" height="0.70" fill="#a6002b"/>
<line x1="255.50" y1="694.60" x2="255.50" y2="699.20" stroke="#000" stroke-width="1.6" />
<text x="255.70" y="714.90" font-size="12" text-anchor="middle" >96</text>
<text x="154.60" y="567.20" font-size="10.1" text-anchor="start" textLength="45.6" lengthAdjust="spacingAndGlyphs" style="stroke-width:0.05px">10 <tspan font-style="italic">µ</tspan>g i.p.</text>
<line x1="328.10" y1="555.90" x2="328.10" y2="695.50" stroke="#000" stroke-width="1.7" />
<line x1="327.30" y1="694.60" x2="506.50" y2="694.60" stroke="#000" stroke-width="1.9" />
<line x1="323.50" y1="694.60" x2="328.10" y2="694.60" stroke="#000" stroke-width="1.6" />
<text x="318.80" y="698.80" font-size="12" text-anchor="end" >0</text>
<line x1="323.50" y1="649.87" x2="328.10" y2="649.87" stroke="#000" stroke-width="1.6" />
<text x="318.80" y="654.07" font-size="12" text-anchor="end" >500</text>
<line x1="323.50" y1="605.13" x2="328.10" y2="605.13" stroke="#000" stroke-width="1.6" />
<text x="318.80" y="609.33" font-size="12" text-anchor="end" >1000</text>
<line x1="323.50" y1="560.40" x2="328.10" y2="560.40" stroke="#000" stroke-width="1.6" />
<text x="318.80" y="564.60" font-size="12" text-anchor="end" >1500</text>
<rect x="331.20" y="569.17" width="16.00" height="124.93" fill="#a6002b"/>
<line x1="339.20" y1="694.60" x2="339.20" y2="699.20" stroke="#000" stroke-width="1.6" />
<text x="339.40" y="714.90" font-size="12" text-anchor="middle" >2.5</text>
<rect x="353.50" y="618.64" width="16.00" height="75.46" fill="#a6002b"/>
<line x1="361.50" y1="694.60" x2="361.50" y2="699.20" stroke="#000" stroke-width="1.6" />
<text x="361.70" y="714.90" font-size="12" text-anchor="middle" >5</text>
<rect x="375.80" y="637.43" width="16.00" height="56.67" fill="#a6002b"/>
<line x1="383.80" y1="694.60" x2="383.80" y2="699.20" stroke="#000" stroke-width="1.6" />
<text x="384.00" y="714.90" font-size="12" text-anchor="middle" >7.5</text>
<rect x="398.10" y="665.08" width="16.00" height="29.02" fill="#a6002b"/>
<line x1="406.10" y1="694.60" x2="406.10" y2="699.20" stroke="#000" stroke-width="1.6" />
<text x="406.30" y="714.90" font-size="12" text-anchor="middle" >12</text>
<rect x="420.40" y="683.24" width="16.00" height="10.86" fill="#a6002b"/>
<line x1="428.40" y1="694.60" x2="428.40" y2="699.20" stroke="#000" stroke-width="1.6" />
<text x="428.60" y="714.90" font-size="12" text-anchor="middle" >25</text>
<rect x="442.70" y="686.73" width="16.00" height="7.37" fill="#a6002b"/>
<line x1="450.70" y1="694.60" x2="450.70" y2="699.20" stroke="#000" stroke-width="1.6" />
<text x="450.90" y="714.90" font-size="12" text-anchor="middle" >48</text>
<rect x="465.00" y="691.92" width="16.00" height="2.18" fill="#a6002b"/>
<line x1="473.00" y1="694.60" x2="473.00" y2="699.20" stroke="#000" stroke-width="1.6" />
<text x="473.20" y="714.90" font-size="12" text-anchor="middle" >72</text>
<rect x="487.30" y="692.18" width="16.00" height="1.92" fill="#a6002b"/>
<line x1="495.30" y1="694.60" x2="495.30" y2="699.20" stroke="#000" stroke-width="1.6" />
<text x="495.50" y="714.90" font-size="12" text-anchor="middle" >96</text>
<text x="396.40" y="566.00" font-size="10.1" text-anchor="start" textLength="45.6" lengthAdjust="spacingAndGlyphs" style="stroke-width:0.05px">10 <tspan font-style="italic">µ</tspan>g i.v.</text>
<text transform="translate(42.10,496.30) rotate(-90)" x="0" y="0" font-size="15" textLength="113.6" lengthAdjust="spacingAndGlyphs" style="stroke:none">sP-selectin (ng/mL)</text>
<text transform="translate(42.10,692.90) rotate(-90)" x="0" y="0" font-size="15" textLength="131.1" lengthAdjust="spacingAndGlyphs" style="stroke:none">sP-selectin-Fc (ng/mL)</text>
<text x="203.40" y="734.70" font-size="15" text-anchor="start" textLength="131.2" lengthAdjust="spacingAndGlyphs" style="stroke:none">Time after injection (h)</text>
</svg>
</body></html>
